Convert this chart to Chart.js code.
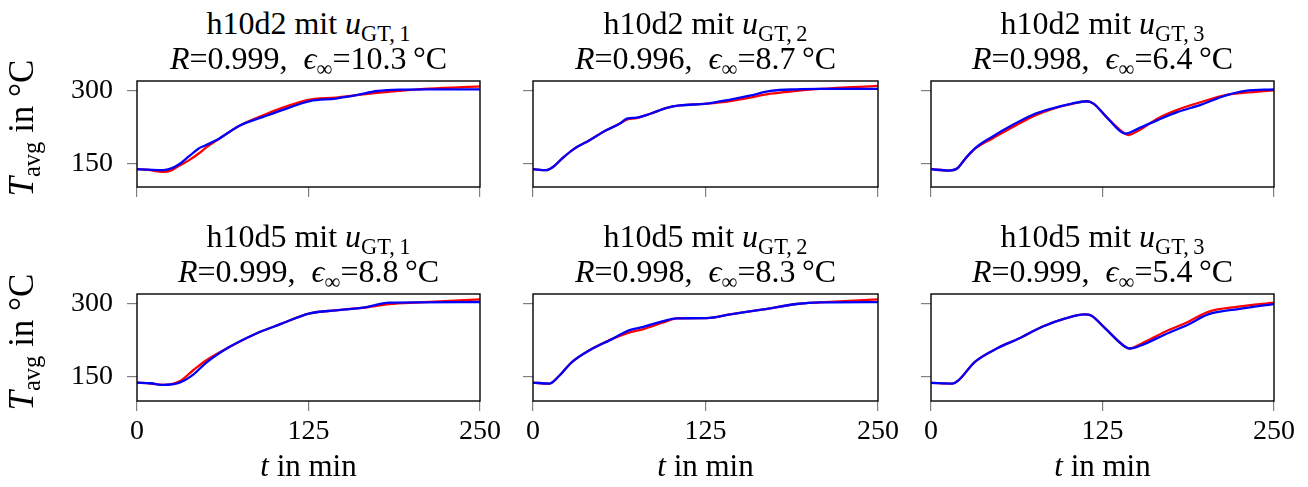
<!DOCTYPE html>
<html>
<head>
<meta charset="utf-8">
<script src="https://cdn.jsdelivr.net/npm/chart.js@4.4.1/dist/chart.umd.min.js"></script>
<style>
  body { margin: 0; background: #fff; width: 1308px; height: 487px; position: relative; overflow: hidden;
         font-family: "Liberation Serif", serif; color: #000; }
  canvas { position: absolute; }
  .lbl { position: absolute; font-size: 32px; line-height: 36px; white-space: nowrap; text-align: center; }
  .lbl sub { font-size: 70%; vertical-align: -0.3em; line-height: 0; }
  .xl { font-size: 31px; }
  .rot { transform: rotate(-90deg); transform-origin: 50% 50%; font-size: 35px; line-height: 40px; }
</style>
</head>
<body>
<script>
// time in min, temperature in °C; red = reference, blue = prediction
const h10d2_u1_t    = [0, 8, 19, 25, 31, 38, 45, 50, 58, 75, 92, 109, 126, 145, 160, 175, 191, 213, 250];
const h10d2_u1_red  = [138.4, 137, 133, 136, 146, 157, 170.5, 182, 197, 228, 249, 267, 281, 285, 290, 294.5, 298.6, 303.4, 308];
const h10d2_u1_blue = [138.4, 137.5, 136.5, 140, 149, 165, 181, 187.5, 198, 228, 245.5, 262.5, 278, 283, 290, 298.5, 301.5, 302, 302];

const h10d2_u2_t    = [0, 9.7, 14.5, 21.8, 29, 41, 53, 63, 68, 75, 85, 97, 106.5, 126, 143, 157, 172, 191, 208, 250];
const h10d2_u2_red  = [138.4, 136.4, 143, 162, 178.6, 197.7, 218, 232, 240, 243, 252, 264, 269, 272.7, 278, 285, 293, 298.6, 302.7, 308.9];
const h10d2_u2_blue = [138.4, 136.4, 143, 162, 178.6, 197.7, 218, 232, 242, 244, 252, 264, 269, 272.7, 281, 289, 298.6, 302, 302.7, 302.7];

const h10d2_u3_t    = [0, 12.9, 19, 25, 32, 44.4, 59, 73.5, 88, 102.7, 113.6, 118.4, 129, 141.5, 144, 151, 166, 180, 197, 214, 229, 250];
const h10d2_u3_red  = [138.4, 135.7, 139.8, 160, 180, 201, 223.6, 245.5, 261.5, 272.2, 277.5, 272.7, 242, 211, 208.5, 217, 243.4, 260.5, 276, 289.8, 295, 300];
const h10d2_u3_blue = [138.4, 135.7, 139.8, 160, 181, 204.5, 228.4, 249, 262.5, 272.7, 277.5, 272.7, 242, 211.4, 212.5, 221.6, 240, 255.7, 270.7, 288.4, 298.6, 302];

const h10d5_u1_t    = [0, 10, 19, 31, 41, 50.6, 67.6, 87, 104, 126, 145, 165, 184, 206, 250];
const h10d5_u1_red  = [138.3, 136.5, 133.5, 141, 163.8, 184.4, 212, 239.5, 258, 280.7, 287, 292.4, 300, 303.4, 309.6];
const h10d5_u1_blue = [138.3, 137, 133.5, 138.3, 154.8, 179.6, 212, 239.5, 258, 280.7, 287, 292.4, 302.8, 303.4, 304.1];

const h10d5_u2_t    = [0, 12, 19.4, 27.8, 41, 55.7, 70, 80, 94.4, 104, 126, 143, 167, 191, 208, 250];
const h10d5_u2_red  = [138.3, 136.3, 153.5, 179.6, 205, 225.7, 241.5, 248.4, 262, 270.4, 271, 278.7, 289, 300, 303.4, 309.6];
const h10d5_u2_blue = [138.3, 136.3, 153.5, 179.6, 205, 225.7, 246.3, 253, 265, 270.4, 271, 278.7, 289, 300, 303.4, 304];

const h10d5_u3_t    = [0, 15.3, 20, 32, 49, 64, 81, 98, 112, 117, 127, 141.5, 145, 153.6, 170.6, 187.6, 202, 224, 250];
const h10d5_u3_red  = [137.6, 136.3, 143, 181, 209.9, 229, 253.2, 270.4, 278.7, 276, 249.8, 212, 208.5, 218.8, 243, 263.5, 284, 294.5, 302.8];
const h10d5_u3_blue = [137.6, 136.3, 143, 181, 209.9, 229, 253.2, 270.4, 278.7, 276, 249.8, 212, 208.5, 215.4, 237.4, 258, 278.7, 289.7, 300];

const xTicks = [0, 125, 250];
const yTicks = [150, 300];
const xRange = [0, 250];
const yRangeTop = [102, 319];
const yRangeBottom = [100.5, 320.6];

const caseNames = ["h10d2", "h10d5"];
const inputIdx = [1, 2, 3];
const rValues = [[0.999, 0.996, 0.998], [0.999, 0.998, 0.999]];
const epsValues = [[10.3, 8.7, 6.4], [8.8, 8.3, 5.4]];

const seriesT = [[h10d2_u1_t, h10d2_u2_t, h10d2_u3_t], [h10d5_u1_t, h10d5_u2_t, h10d5_u3_t]];
const seriesRed = [[h10d2_u1_red, h10d2_u2_red, h10d2_u3_red], [h10d5_u1_red, h10d5_u2_red, h10d5_u3_red]];
const seriesBlue = [[h10d2_u1_blue, h10d2_u2_blue, h10d2_u3_blue], [h10d5_u1_blue, h10d5_u2_blue, h10d5_u3_blue]];

// layout of the plot boxes
const cols = [{ left: 137, width: 343 }, { left: 533, width: 345 }, { left: 931, width: 343 }];
const rows = [{ top: 81, height: 106, range: yRangeTop }, { top: 294, height: 107, range: yRangeBottom }];
const PAD_L = 100, PAD_R = 40, PAD_T = 15, PAD_B = 60;
const FONT = "Liberation Serif";

const frame = {
    id: "frame",
    afterDraw(chart) {
        const a = chart.chartArea, ctx = chart.ctx;
        ctx.save();
        ctx.strokeStyle = "#000";
        ctx.lineWidth = 1.4;
        ctx.strokeRect(a.left, a.top, a.right - a.left, a.bottom - a.top);
        ctx.restore();
    }
};

function addLabel(html, left, top, width, extraClass) {
    const d = document.createElement("div");
    d.className = "lbl" + (extraClass ? " " + extraClass : "");
    d.style.left = left + "px";
    d.style.top = top + "px";
    d.style.width = width + "px";
    d.innerHTML = html;
    document.body.appendChild(d);
}

function makePanel(r, c) {
    const col = cols[c], row = rows[r];
    const cv = document.createElement("canvas");
    const w = PAD_L + col.width + PAD_R, h = PAD_T + row.height + PAD_B;
    cv.width = w; cv.height = h;
    cv.style.left = (col.left - PAD_L) + "px";
    cv.style.top = (row.top - PAD_T) + "px";
    document.body.appendChild(cv);

    const t = seriesT[r][c];
    const toPts = arr => arr.map((v, i) => ({ x: t[i], y: v }));

    new Chart(cv.getContext("2d"), {
        type: "line",
        data: {
            datasets: [
                { data: toPts(seriesRed[r][c]), borderColor: "#ff0000", borderWidth: 2.3, order: 2 },
                { data: toPts(seriesBlue[r][c]), borderColor: "#0000ff", borderWidth: 2.3, order: 1 }
            ]
        },
        options: {
            responsive: false,
            animation: false,
            devicePixelRatio: 1,
            layout: { padding: { left: 0, right: PAD_R, top: PAD_T, bottom: 0 } },
            elements: { point: { radius: 0 }, line: { cubicInterpolationMode: "monotone" } },
            plugins: { legend: { display: false }, tooltip: { enabled: false } },
            scales: {
                x: {
                    type: "linear", min: xRange[0], max: xRange[1],
                    afterBuildTicks: s => { s.ticks = xTicks.map(v => ({ value: v })); },
                    afterFit: s => { s.height = PAD_B; s.paddingLeft = 0; s.paddingRight = 0; },
                    grid: { drawOnChartArea: false, tickLength: 10, color: "#808080", lineWidth: 1.2 },
                    border: { display: false },
                    ticks: { display: r === 1, padding: 4, color: "#000", maxRotation: 0,
                             font: { family: FONT, size: 28 } }
                },
                y: {
                    type: "linear", min: row.range[0], max: row.range[1],
                    afterBuildTicks: s => { s.ticks = yTicks.map(v => ({ value: v })); },
                    afterFit: s => { s.width = PAD_L; s.paddingTop = 0; s.paddingBottom = 0; },
                    grid: { drawOnChartArea: false, tickLength: 10, color: "#808080", lineWidth: 1.2 },
                    border: { display: false },
                    ticks: { display: c === 0, padding: 14, color: "#000",
                             font: { family: FONT, size: 28 } }
                }
            }
        },
        plugins: [frame]
    });

    // titles
    const shift = row.top - rows[0].top;
    addLabel(caseNames[r] + " mit <i>u</i><sub>GT,&#8201;" + inputIdx[c] + "</sub>",
             col.left - 60, 4.5 + shift, col.width + 120);
    addLabel("<i>R</i>=" + rValues[r][c].toFixed(3) + ",&nbsp;&nbsp;<i>&#1013;</i><sub>&#8734;</sub>=" +
             epsValues[r][c].toFixed(1) + "&#8201;°C",
             col.left - 60, 39.5 + shift, col.width + 120);

    if (r === 1) addLabel("<i>t</i> in min", col.left, 448, col.width, "xl");
    if (c === 0) {
        const lw = 240;
        addLabel("<i>T</i><sub>avg</sub> in&nbsp;°C", 22 - lw / 2, row.top + row.height / 2 - 26, lw, "rot");
    }
}

for (let r = 0; r < rows.length; r++) {
    for (let c = 0; c < cols.length; c++) makePanel(r, c);
}
</script>
</body>
</html>
